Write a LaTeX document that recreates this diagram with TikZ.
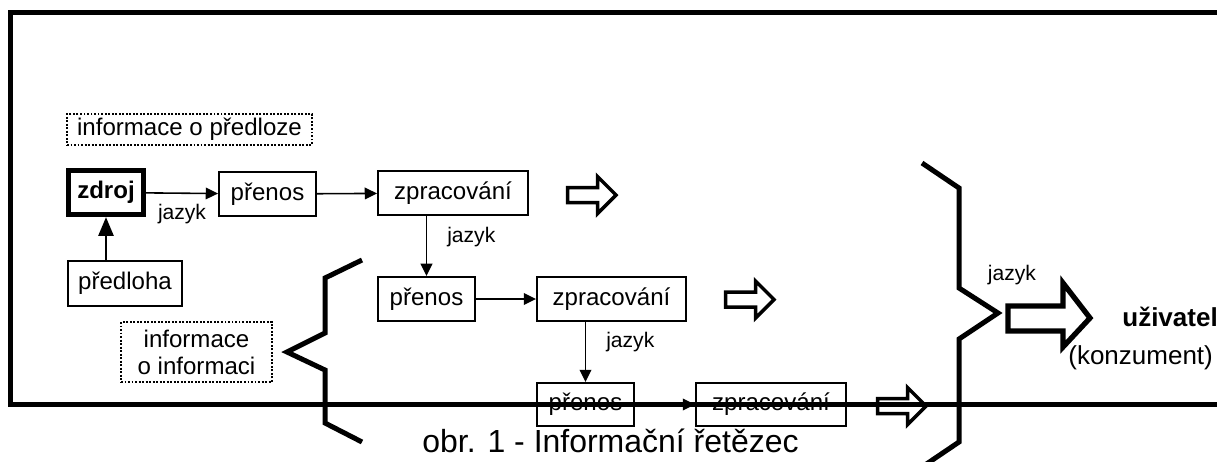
\documentclass[tikz,border=0pt]{standalone}
\usepackage{fontspec}
\setmainfont{Liberation Sans}
\usetikzlibrary{arrows.meta}

\tikzset{
  box/.style={draw, line width=1.1pt, inner sep=0pt, minimum height=0.88cm, font=\fontsize{13.7}{16}\selectfont},
  infobox/.style={draw, line width=1.1pt, dash pattern=on 1.1pt off 0.9pt, inner sep=0pt, align=center, font=\fontsize{13.7}{15.4}\selectfont},
  conn/.style={-{Triangle[length=7pt,width=6.6pt]}, line width=0.9pt},
  lang/.style={inner sep=0pt, font=\fontsize{12}{14}\selectfont},
  brace/.style={line width=2.85pt},
  hollow/.style={line width=2pt},
  smallarrow/.pic={\draw[hollow] (0,-7.5) -- (30,-7.5) -- (30,-18.5) -- (48.5,0) -- (30,18.5) -- (30,7.5) -- (0,7.5) -- cycle;}
}

\begin{document}
\begin{tikzpicture}[x=0.02cm, y=-0.02cm]
    \useasboundingbox (0,0) rectangle (1217,461);
    \clip (0,0) rectangle (1217,461);
    % first row
    \node[infobox, minimum width=4.9cm, minimum height=0.62cm] (info1) at (189.5,129.5) {informace o předloze};
    \node[box, line width=2.85pt, minimum width=1.5cm, font=\fontsize{13.7}{16}\selectfont\bfseries] (zdroj) at (106,192.5) {zdroj};
    \node[box, minimum width=1.94cm] (pr1) at (267.5,194) {přenos};
    \node[box, minimum width=3cm] (zp1) at (453,193) {zpracování};
    \node[box, minimum width=2.28cm, minimum height=0.9cm] (pred) at (125,283.5) {předloha};
    \draw[conn] (zdroj) -- (pr1) node[lang, midway, below=0.2cm] {jazyk};
    \draw[conn] (pr1) -- (zp1);
    \draw[-{Triangle[length=10.8pt,width=8.5pt]}, line width=1.7pt] (zdroj.south |- pred.north) -- (zdroj.south);
    \pic at (567.5,195) {smallarrow};
    % second row
    \node[box, minimum width=1.94cm] (pr2) at (426.5,299) {přenos};
    \node[box, minimum width=2.98cm] (zp2) at (611.5,299) {zpracování};
    \node[infobox, minimum width=3.02cm, minimum height=1.2cm] (info2) at (196.5,352) {informace\\o informaci};
    \draw[conn] (pr2.north |- zp1.south) -- (pr2.north) node[lang, pos=0.35, right=0.4cm] {jazyk};
    \draw[conn] (pr2) -- (zp2);
    \pic at (725.5,299.5) {smallarrow};
    % third row
    \node[box, minimum width=1.94cm, minimum height=0.86cm] (pr3) at (585.5,404.5) {přenos};
    \node[box, minimum width=3cm, minimum height=0.86cm] (zp3) at (771,404.5) {zpracování};
    \draw[conn] (pr3.north |- zp2.south) -- (pr3.north) node[lang, pos=0.33, right=0.4cm] {jazyk};
    \draw[conn] (pr3) -- (zp3);
    \pic at (877.5,406) {smallarrow};
    % frame
    \draw[line width=2.85pt] (1217,12.5) -- (10.5,12.5) -- (10.5,404) -- (1217,404);
    % braces
    \draw[brace] (362,260) -- (325,278) -- (325,333) -- (287,352) -- (325,370) -- (325,423) -- (362,442);
    \draw[brace] (922,163) -- (959,188) -- (959,288) -- (998,313) -- (959,339) -- (959,442) -- (922,467);
    % user
    \draw[line width=3pt] (1008,306) -- (1063,306) -- (1063,283) -- (1090,318) -- (1063,347) -- (1063,331) -- (1008,331) -- cycle;
    \node[lang] (lang4) at (1012,275) {jazyk};
    \node[anchor=west, inner sep=0pt, font=\fontsize{14.8}{17}\selectfont\bfseries] (user) at (1122,317) {uživatel};
    \node[anchor=west, inner sep=0pt, font=\fontsize{14.8}{17}\selectfont] (kons) at (1068,358) {(konzument)};
    \node[anchor=base, inner sep=0pt, font=\fontsize{18.2}{21}\selectfont] (caption) at (610.5,452) {obr. 1 - Informační řetězec};
\end{tikzpicture}
\end{document}
